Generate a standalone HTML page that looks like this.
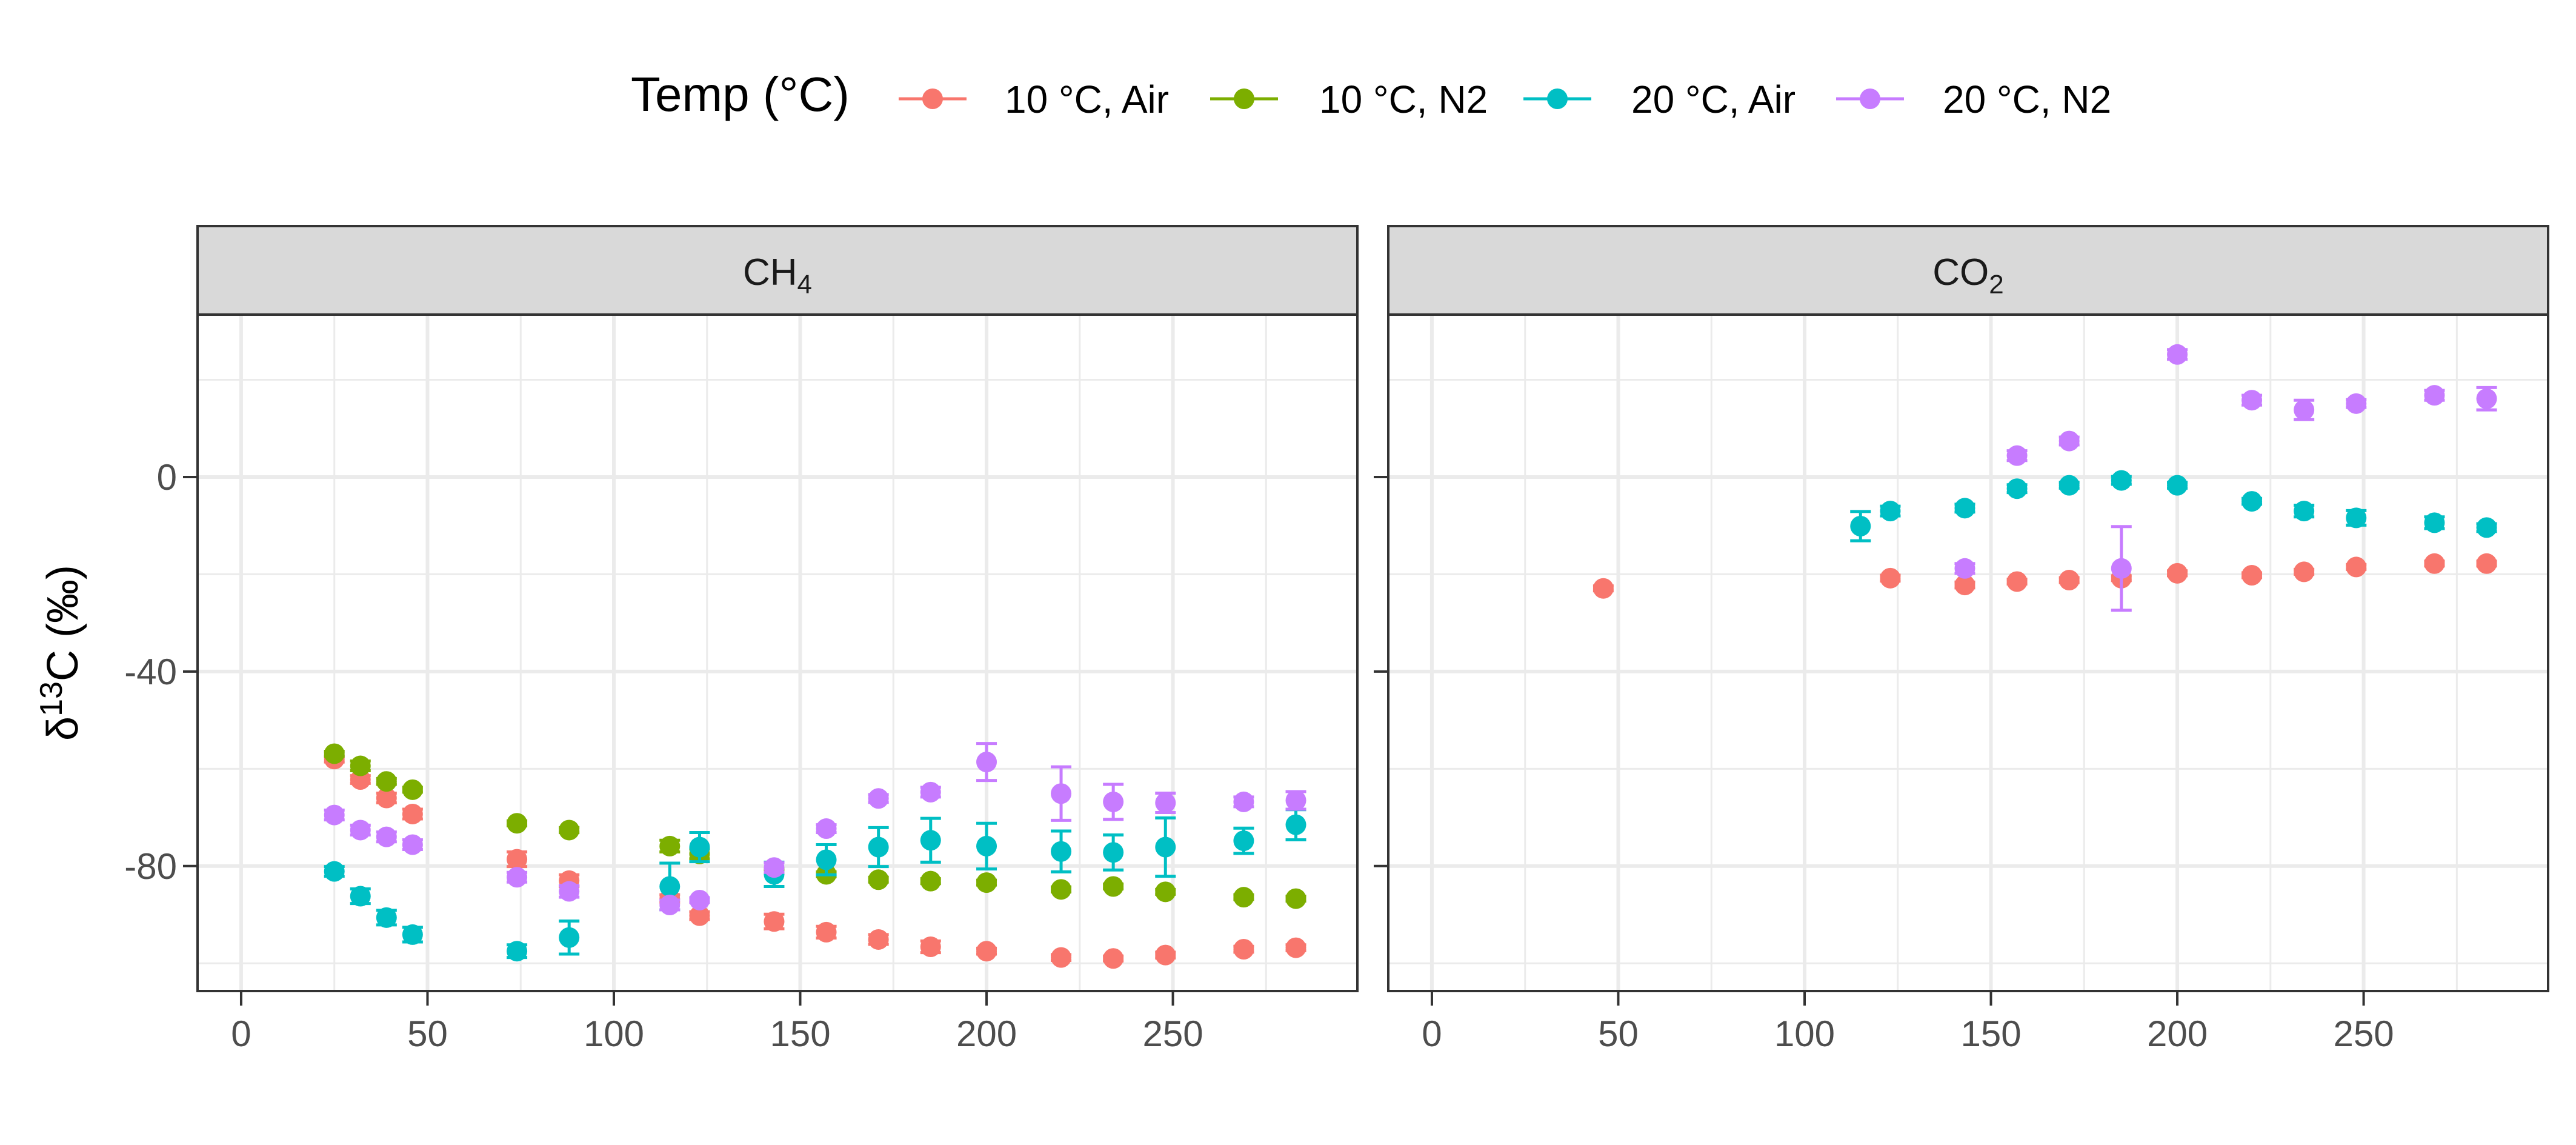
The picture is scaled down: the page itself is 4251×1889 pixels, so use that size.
<!DOCTYPE html>
<html><head><meta charset="utf-8"><style>
html,body{margin:0;padding:0;background:#fff;}
svg{display:block;font-family:"Liberation Sans",Arial,sans-serif;}
</style></head><body>
<svg id="chart" width="4251" height="1889" viewBox="0 0 4251 1889" xmlns="http://www.w3.org/2000/svg">
<rect width="4251" height="1889" fill="#fff"/>
<g id="legend">
<text x="1041" y="183" font-size="80" fill="#000">Temp (°C)</text>
</g>
<g id="panels"></g>
<text transform="translate(128,1077) rotate(-90)" text-anchor="middle" font-size="72" fill="#000">δ<tspan dy="-26" font-size="52">13</tspan><tspan dy="26">C (‰)</tspan></text>
</svg>
<script>
const seriesNames = ["10 °C, Air","10 °C, N2","20 °C, Air","20 °C, N2"];
const colors = ["#F8766D","#7CAE00","#00BFC4","#C77CFF"];
const xTicks = [0,50,100,150,200,250];
const yTicks = [-80,-40,0];
const panelNames = ["CH4","CO2"];
const ch4X = [25,32,39,46,74,88,115,123,143,157,171,185,200,220,234,248,269,283];
const ch4AirCold = [-58,-62.2,-66,-69.3,-78.6,-83,-86.7,-90.2,-91.4,-93.6,-95.1,-96.6,-97.5,-98.8,-99,-98.3,-97.1,-96.8];
const ch4AirColdErr = [0.6,0.8,1,1,1.5,1.2,0.8,0.8,1.5,1.2,1,1.2,0.6,0.6,0.5,0.6,0.6,0.6];
const ch4N2Cold = [-56.9,-59.4,-62.6,-64.3,-71.2,-72.6,-75.9,-77.5,-81,-81.7,-82.8,-83.1,-83.4,-84.8,-84.2,-85.3,-86.4,-86.7];
const ch4N2ColdErr = [0.5,1,0.6,0.5,0.5,0.5,1.2,1,0.5,0.5,0.5,0.5,0.5,0.5,0.5,0.5,0.5,0.5];
const ch4AirWarm = [-81.1,-86.2,-90.6,-94.1,-97.5,-94.7,-84.2,-76.1,-81.7,-78.7,-76.1,-74.7,-75.9,-77,-77.2,-76.1,-74.8,-71.5];
const ch4AirWarmErr = [1,1.5,1.5,1.5,1.3,3.4,4.8,3,2.5,3.1,4,4.5,4.7,4.2,3.6,6,2.6,3.1];
const ch4N2Warm = [-69.5,-72.6,-74,-75.6,-82.3,-85.2,-88,-87,-80.3,-72.3,-66.1,-64.8,-58.6,-65.1,-66.8,-67,-66.8,-66.5];
const ch4N2WarmErr = [1,1,1,1,1,1.2,1,0.5,1,0.8,0.8,1,3.8,5.5,3.6,2,1,1.8];
const co2AirColdX = [46,123,143,157,171,185,200,220,234,248,269,283];
const co2AirCold = [-22.9,-20.8,-22.2,-21.5,-21.2,-20.8,-19.8,-20.2,-19.5,-18.5,-17.8,-17.8];
const co2AirColdErr = [0.5,0.6,0.6,0.5,0.5,0.5,0.5,0.5,0.5,0.5,0.5,0.5];
const co2AirWarmX = [115,123,143,157,171,185,200,220,234,248,269,283];
const co2AirWarm = [-10.1,-7,-6.4,-2.4,-1.7,-0.7,-1.7,-5,-7,-8.4,-9.4,-10.4];
const co2AirWarmErr = [3,1,0.8,0.8,0.6,0.8,0.6,0.6,1.2,1.5,1.2,0.8];
const co2N2WarmX = [143,157,171,185,200,220,234,248,269,283];
const co2N2Warm = [-18.8,4.4,7.4,-18.8,25.2,15.8,13.8,15.1,16.8,16.1];
const co2N2WarmErr = [1,1,0.8,8.6,1,1,2,0.8,1,2.3];

const NS="http://www.w3.org/2000/svg";
function mk(tag, attrs, parent){const e=document.createElementNS(NS,tag);for(const k in attrs)e.setAttribute(k,attrs[k]);parent.appendChild(e);return e;}
const svg=document.getElementById('chart');
const panelsG=document.getElementById('panels');
const legendG=document.getElementById('legend');
const PT=519, PB=1635, PW=1914, STRIP_T=373;
const panelLeft=[326,2291];
const xMin=-11.7, xMax=299.5, yMin=-105.7, yMax=33.4;

const panelData = [
  [[ch4X,ch4AirCold,ch4AirColdErr,0],[ch4X,ch4N2Cold,ch4N2ColdErr,1],[ch4X,ch4AirWarm,ch4AirWarmErr,2],[ch4X,ch4N2Warm,ch4N2WarmErr,3]],
  [[co2AirColdX,co2AirCold,co2AirColdErr,0],[co2AirWarmX,co2AirWarm,co2AirWarmErr,2],[co2N2WarmX,co2N2Warm,co2N2WarmErr,3]]
];

panelNames.forEach((pn,pi)=>{
  const L=panelLeft[pi], R=L+PW;
  const sx=v=>L+(v-xMin)/(xMax-xMin)*PW;
  const sy=v=>PB-(v-yMin)/(yMax-yMin)*(PB-PT);
  const g=mk('g',{},panelsG);
  
  
  // strip
  const st=mk('rect',{x:L,y:STRIP_T,width:PW,height:PT-STRIP_T,fill:'#D9D9D9',stroke:'#333',"stroke-width":4},g);
  
  
  const stt=mk('text',{x:L+PW/2,y:470,"text-anchor":"middle","font-size":62,fill:'#1A1A1A'},g);
  
  
  stt.appendChild(document.createTextNode(pn.slice(0,2)));
  const sub=mk('tspan',{dy:14,"font-size":44},stt); sub.textContent=pn.slice(2);
  // grid minor
  [-100,-60,-20,20].forEach(v=>{const l=mk('line',{x1:L,x2:R,y1:sy(v),y2:sy(v),stroke:'#EBEBEB',"stroke-width":3},g);
    });
  [25,75,125,175,225,275].forEach(v=>{const l=mk('line',{x1:sx(v),x2:sx(v),y1:PT,y2:PB,stroke:'#EBEBEB',"stroke-width":3},g);
    });
  yTicks.forEach(v=>{const l=mk('line',{x1:L,x2:R,y1:sy(v),y2:sy(v),stroke:'#EBEBEB',"stroke-width":6},g);
    });
  xTicks.forEach(v=>{const l=mk('line',{x1:sx(v),x2:sx(v),y1:PT,y2:PB,stroke:'#EBEBEB',"stroke-width":6},g);
    });
  // data
  panelData[pi].forEach(([xs,ys,es,ci])=>{
    const sg=mk('g',{},g);
    
    
    xs.forEach((xv,i)=>{
      const cx=sx(xv), y0=sy(ys[i]-es[i]), y1=sy(ys[i]+es[i]);
      const eb=mk('path',{d:`M${cx-17},${y1}H${cx+17}M${cx},${y1}V${y0}M${cx-17},${y0}H${cx+17}`,stroke:colors[ci],"stroke-width":5,fill:'none'},sg);
      
      
      const c=mk('circle',{cx:cx,cy:sy(ys[i]),r:17,fill:colors[ci]},sg);
      
      
    });
  });
  const br=mk('rect',{x:L,y:PT,width:PW,height:PB-PT,fill:'none',stroke:'#333',"stroke-width":4},g);
  
  
  // x ticks
  xTicks.forEach(v=>{
    const t=mk('line',{x1:sx(v),x2:sx(v),y1:PB,y2:PB+24,stroke:'#333',"stroke-width":4},g);
    
    const tx=mk('text',{x:sx(v),y:1726,"text-anchor":"middle","font-size":60,fill:'#4D4D4D'},g);
    
    tx.textContent=v;
  });
  yTicks.forEach(v=>{
    const t=mk('line',{x1:L-24,x2:L,y1:sy(v),y2:sy(v),stroke:'#333',"stroke-width":4},g);
    
    if(pi===0){
      const tx=mk('text',{x:L-34,y:sy(v)+21,"text-anchor":"end","font-size":60,fill:'#4D4D4D'},g);
      
      tx.textContent=v;
    }
  });
});

const keyX=[1539,2053,2570,3086], labX=[1658,2177,2692,3206];
seriesNames.forEach((n,i)=>{
  const kg=mk('g',{},legendG);
  
  
  mk('line',{x1:keyX[i]-56,x2:keyX[i]+56,y1:163,y2:163,stroke:colors[i],"stroke-width":5},kg);
  mk('line',{x1:keyX[i],x2:keyX[i],y1:148,y2:178,stroke:colors[i],"stroke-width":5},kg);
  mk('circle',{cx:keyX[i],cy:163,r:17,fill:colors[i]},kg);
  const t=mk('text',{x:labX[i],y:186,"font-size":64,fill:'#000'},kg);
  t.textContent=n;
});
</script>
</body></html>
